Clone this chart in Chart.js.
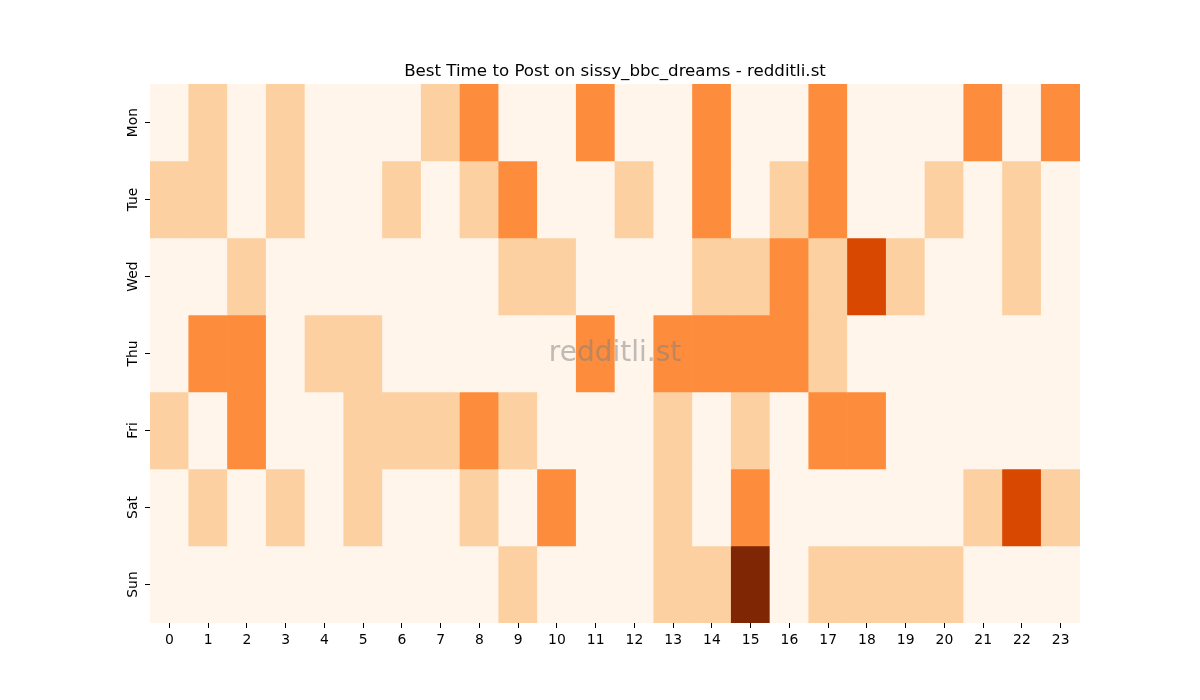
<!DOCTYPE html>
<html>
<head>
<meta charset="utf-8">
<script src="https://cdn.jsdelivr.net/npm/chart.js@4.4.0/dist/chart.umd.min.js"></script>
<style>
  html, body { margin: 0; padding: 0; background: #fff; }
  #wrap { width: 1200px; height: 700px; }
</style>
</head>
<body>
<div id="wrap"><canvas id="heat" width="1200" height="700"></canvas></div>
<script>
// hours along x, days down y
const hours = ["0","1","2","3","4","5","6","7","8","9","10","11","12","13","14","15","16","17","18","19","20","21","22","23"];
const days = ["Mon", "Tue", "Wed", "Thu", "Fri", "Sat", "Sun"];

// activity level per hour (0 = lowest .. 4 = highest)
const mon = [0,1,0,1,0,0,0,1,2,0,0,2,0,0,2,0,0,2,0,0,0,2,0,2];
const tue = [1,1,0,1,0,0,1,0,1,2,0,0,1,0,2,0,1,2,0,0,1,0,1,0];
const wed = [0,0,1,0,0,0,0,0,0,1,1,0,0,0,1,1,2,1,3,1,0,0,1,0];
const thu = [0,2,2,0,1,1,0,0,0,0,0,2,0,2,2,2,2,1,0,0,0,0,0,0];
const fri = [1,0,2,0,0,1,1,1,2,1,0,0,0,1,0,1,0,2,2,0,0,0,0,0];
const sat = [0,1,0,1,0,1,0,0,1,0,2,0,0,1,0,2,0,0,0,0,0,1,3,1];
const sun = [0,0,0,0,0,0,0,0,0,1,0,0,0,1,1,4,0,1,1,1,1,0,0,0];
const rows = [mon, tue, wed, thu, fri, sat, sun];

// Oranges colormap steps
const levelColors = ["#fff5eb", "#fdd0a2", "#fd8d3c", "#d94801", "#7f2704"];

const titleText = "Best Time to Post on sissy_bbc_dreams - redditli.st";
const FONT = "'DejaVu Sans', sans-serif";

const datasets = rows.map((vals, r) => ({
  label: days[r],
  data: vals.map(() => [r, r + 1]),
  backgroundColor: vals.map((v) => levelColors[v]),
  borderWidth: 0,
  borderSkipped: false,
  barPercentage: 1,
  categoryPercentage: 1,
  grouped: false,
}));

// title over the axes, rotated day labels, watermark
const extras = {
  id: "extras",
  afterDraw(chart) {
    const ctx = chart.ctx;
    const y = chart.scales.y;
    const a = chart.chartArea;
    const cx = (a.left + a.right) / 2;
    ctx.save();
    ctx.fillStyle = "#000";
    ctx.textAlign = "center";

    ctx.font = "16.67px " + FONT;
    ctx.textBaseline = "middle";
    ctx.fillText(titleText, cx, a.top - 12.5);

    ctx.font = "13.9px " + FONT;
    ctx.textBaseline = "bottom";
    days.forEach((d, i) => {
      const py = y.getPixelForValue(i + 0.5);
      ctx.save();
      ctx.translate(y.right - 10, py);
      ctx.rotate(-Math.PI / 2);
      ctx.fillText(d, 0, 0);
      ctx.restore();
    });

    ctx.font = "28px " + FONT;
    ctx.textBaseline = "middle";
    ctx.fillStyle = "rgba(128,128,128,0.5)";
    ctx.fillText("redditli.st", cx, (a.top + a.bottom) / 2);
    ctx.restore();
  },
};

new Chart(document.getElementById("heat"), {
  type: "bar",
  data: { labels: hours, datasets },
  options: {
    responsive: false,
    animation: false,
    layout: { padding: { left: 130, right: 120, top: 84, bottom: 47 } },
    plugins: {
      legend: { display: false },
      tooltip: { enabled: false },
      title: { display: false },
    },
    scales: {
      x: {
        type: "category",
        offset: true,
        border: { display: false },
        grid: { display: true, drawOnChartArea: false, offset: false, drawTicks: true, tickLength: 5, color: "#000" },
        ticks: { color: "#000", font: { family: FONT, size: 13.9 }, maxRotation: 0, autoSkip: false, padding: 4 },
        afterFit: (s) => { s.height = 30; },
      },
      y: {
        type: "linear",
        min: 0,
        max: 7,
        reverse: true,
        border: { display: false },
        grid: { display: true, drawOnChartArea: false, drawTicks: true, tickLength: 5, color: "#000" },
        ticks: { display: false },
        afterBuildTicks: (s) => { s.ticks = days.map((d, i) => ({ value: i + 0.5 })); },
        afterFit: (s) => { s.width = 20; },
      },
    },
  },
  plugins: [extras],
});
</script>
</body>
</html>
